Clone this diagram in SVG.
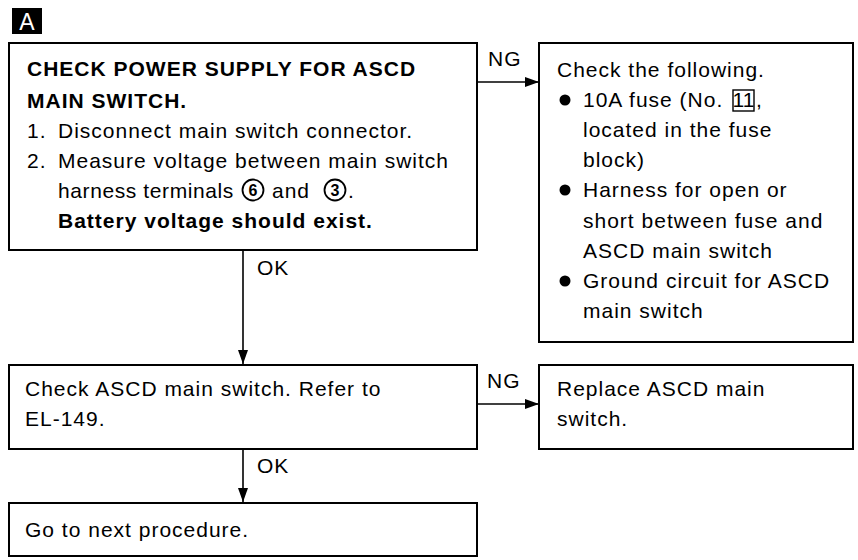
<svg xmlns="http://www.w3.org/2000/svg" width="858" height="560" viewBox="0 0 858 560">
<style>
text{font-family:"Liberation Sans",Arial,sans-serif;font-size:21px;letter-spacing:1px;fill:#000}
.b{font-weight:bold}
.box{fill:#fff;stroke:#000;stroke-width:2}
.con{stroke:#000;stroke-width:1.6;fill:none}
.dig{font-size:16px;font-weight:bold;text-anchor:middle;letter-spacing:0}
.ring{fill:none;stroke:#000;stroke-width:1.8}
</style>
<defs>
<marker id="ah" viewBox="0 0 14 10" refX="14" refY="5" markerWidth="14" markerHeight="11" markerUnits="userSpaceOnUse" orient="auto">
<path d="M0,0 L14,5 L0,10 Z" fill="#000"/>
</marker>
</defs>
<rect width="858" height="560" fill="#fff"/>
<g id="label-A">
<rect x="12" y="8" width="30" height="26" fill="#000"/>
<text x="27" y="30" text-anchor="middle" style="fill:#fff;font-size:23px;letter-spacing:0">A</text>
</g>
<g id="n1">
<rect class="box" x="9" y="43" width="468" height="207"/>
<text class="b" x="27" y="76">CHECK POWER SUPPLY FOR ASCD</text>
<text class="b" x="27" y="108">MAIN SWITCH.</text>
<text x="27" y="138">1.</text><text x="58" y="138">Disconnect main switch connector.</text>
<text x="27" y="168">2.</text><text x="58" y="168">Measure voltage between main switch</text>
<text x="58" y="198" style="letter-spacing:0.6px">harness terminals</text>
<circle class="ring" cx="253" cy="190" r="10.5"/>
<text class="dig" x="253" y="196">6</text>
<text x="272" y="198">and</text>
<circle class="ring" cx="335" cy="190" r="10.5"/>
<text class="dig" x="335" y="196">3</text>
<text x="348" y="198">.</text>
<text class="b" x="58" y="228">Battery voltage should exist.</text>
</g>
<g id="n2">
<rect class="box" x="539" y="43" width="314" height="299"/>
<text x="557" y="77">Check the following.</text>
<circle cx="565" cy="100" r="5.5"/>
<text x="583" y="107">10A fuse (No.</text>
<rect x="733" y="90" width="21" height="21" fill="none" stroke="#000" stroke-width="1.4"/>
<text x="743.5" y="107" style="text-anchor:middle;letter-spacing:0">11</text>
<text x="756" y="107">,</text>
<text x="583" y="137">located in the fuse</text>
<text x="583" y="167">block)</text>
<circle cx="565" cy="190" r="5.5"/>
<text x="583" y="197">Harness for open or</text>
<text x="583" y="228">short between fuse and</text>
<text x="583" y="258">ASCD main switch</text>
<circle cx="565" cy="281" r="5.5"/>
<text x="583" y="288">Ground circuit for ASCD</text>
<text x="583" y="318">main switch</text>
</g>
<g id="n3">
<rect class="box" x="9" y="365" width="468" height="84"/>
<text x="25" y="396">Check ASCD main switch. Refer to</text>
<text x="25" y="426">EL-149.</text>
</g>
<g id="n4">
<rect class="box" x="539" y="365" width="314" height="84"/>
<text x="557" y="396">Replace ASCD main</text>
<text x="557" y="426">switch.</text>
</g>
<g id="n5">
<rect class="box" x="9" y="503" width="468" height="53"/>
<text x="25" y="537">Go to next procedure.</text>
</g>
<g id="connectors">
<line class="con" x1="477" y1="82" x2="539" y2="82" marker-end="url(#ah)"/>
<line class="con" x1="243" y1="251" x2="243" y2="364" marker-end="url(#ah)"/>
<line class="con" x1="477" y1="404" x2="539" y2="404" marker-end="url(#ah)"/>
<line class="con" x1="243" y1="450" x2="243" y2="502" marker-end="url(#ah)"/>
<text x="488" y="66">NG</text>
<text x="257" y="275">OK</text>
<text x="487" y="388">NG</text>
<text x="257" y="473">OK</text>
</g>
</svg>
